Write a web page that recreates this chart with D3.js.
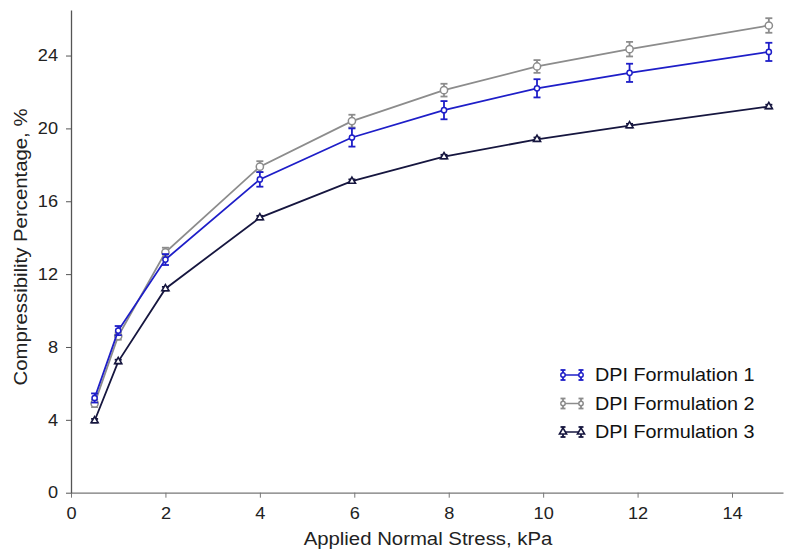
<!DOCTYPE html>
<html>
<head>
<meta charset="utf-8">
<script src="https://cdn.jsdelivr.net/npm/d3@7"></script>
<style>
  body { margin: 0; background: #fff; }
  svg { display: block; font-family: "Liberation Sans", Arial, sans-serif; }
</style>
</head>
<body>
<div id="chart"></div>
<script>
// Applied normal stress, kPa
const stress = [0.5, 1.0, 2.0, 4.0, 5.95, 7.9, 9.87, 11.83, 14.78];

// Compressibility percentage for each formulation
const form1 = [5.2, 8.9, 12.8, 17.2, 19.5, 21.0, 22.2, 23.05, 24.2];
const form2 = [4.9, 8.6, 13.2, 17.9, 20.4, 22.1, 23.4, 24.35, 25.65];
const form3 = [3.95, 7.2, 11.2, 15.1, 17.1, 18.45, 19.4, 20.15, 21.2];

// Error bar half-widths
const err1 = [0.25, 0.25, 0.3, 0.4, 0.5, 0.5, 0.5, 0.5, 0.5];
const err2 = [0.2, 0.2, 0.25, 0.3, 0.35, 0.35, 0.35, 0.4, 0.4];
const err3 = [0.1, 0.1, 0.1, 0.1, 0.1, 0.1, 0.1, 0.1, 0.1];

const seriesNames = ["DPI Formulation 1", "DPI Formulation 2", "DPI Formulation 3"];
const xTicks = [0, 2, 4, 6, 8, 10, 12, 14];
const yTicks = [0, 4, 8, 12, 16, 20, 24];

const width = 790;
const height = 549;

const colors = ["#1e1ec8", "#8c8c8c", "#16163f"];

const series = [
  { name: seriesNames[0], values: form1, err: err1, color: colors[0], marker: "circle", r: 2.6 },
  { name: seriesNames[1], values: form2, err: err2, color: colors[1], marker: "circle", r: 3.6 },
  { name: seriesNames[2], values: form3, err: err3, color: colors[2], marker: "tri", r: 3 }
];

const svg = d3.select("#chart")
  .append("svg")
  .attr("width", width)
  .attr("height", height);

const x = d3.scaleLinear().domain([0, 15.08]).range([71, 783]);
const y = d3.scaleLinear().domain([0, 26.5]).range([492.7, 10]);

// the source font is a bit wider than Liberation Sans, so stretch text horizontally
const stretch = 1.1;
function widen(sel) {
  sel.each(function () {
    const t = d3.select(this);
    const tx = +t.attr("x") || 0;
    t.attr("transform", `translate(${tx * (1 - stretch)}, 0) scale(${stretch}, 1)`);
  });
}

// X axis
const xAxis = svg.append("g")
  .attr("transform", `translate(0, ${y(0)})`)
  .call(d3.axisBottom(x).tickValues(xTicks).tickSize(5).tickPadding(10).tickSizeOuter(0));
xAxis.select(".domain").attr("stroke", "#777").attr("stroke-width", 1.3);
xAxis.selectAll(".tick line").attr("stroke", "#777");
xAxis.selectAll("text").attr("font-size", 16.5).attr("fill", "#222").call(widen);

// Y axis
const yAxis = svg.append("g")
  .attr("transform", `translate(${x(0)}, 0)`)
  .call(d3.axisLeft(y).tickValues(yTicks).tickSize(5).tickPadding(8).tickSizeOuter(0));
yAxis.select(".domain").attr("stroke", "#555").attr("stroke-width", 1.3);
yAxis.selectAll(".tick line").attr("stroke", "#555");
yAxis.selectAll("text").attr("font-size", 16.5).attr("fill", "#222").call(widen);

// Axis titles
svg.append("text")
  .attr("x", 428)
  .attr("y", 545)
  .attr("text-anchor", "middle")
  .attr("font-size", 18.5)
  .attr("fill", "#222")
  .text("Applied Normal Stress, kPa")
  .call(widen);

svg.append("text")
  .attr("transform", `translate(27, 247) rotate(-90) scale(${stretch}, 1)`)
  .attr("text-anchor", "middle")
  .attr("font-size", 18.5)
  .attr("fill", "#222")
  .text("Compressibility Percentage, %");

const triangle = d3.symbol().type(d3.symbolTriangle);

function drawMarker(g, s, cx, cy) {
  if (s.marker === "circle") {
    g.append("circle")
      .attr("cx", cx).attr("cy", cy).attr("r", s.r)
      .attr("fill", "#fff").attr("stroke", s.color).attr("stroke-width", 1.5);
  } else {
    g.append("path")
      .attr("d", triangle.size(22)())
      .attr("transform", `translate(${cx}, ${cy})`)
      .attr("fill", "#fff").attr("stroke", s.color).attr("stroke-width", 1.6);
  }
}

function drawErrorBar(g, s, cx, top, bottom, cap) {
  g.append("line")
    .attr("x1", cx).attr("x2", cx).attr("y1", top).attr("y2", bottom)
    .attr("stroke", s.color).attr("stroke-width", 1.8);
  [top, bottom].forEach(yy => {
    g.append("line")
      .attr("x1", cx - cap).attr("x2", cx + cap).attr("y1", yy).attr("y2", yy)
      .attr("stroke", s.color).attr("stroke-width", 1.8);
  });
}

const line = d3.line()
  .x(d => x(d[0]))
  .y(d => y(d[1]));

// Draw series in order: 3 at back, then 2, then 1
[series[2], series[1], series[0]].forEach(s => {
  const g = svg.append("g");
  const pts = stress.map((v, i) => [v, s.values[i], s.err[i]]);

  g.append("path")
    .datum(pts)
    .attr("d", line)
    .attr("fill", "none")
    .attr("stroke", s.color)
    .attr("stroke-width", 1.8);

  pts.forEach(p => {
    drawErrorBar(g, s, x(p[0]), y(p[1] + p[2]), y(p[1] - p[2]), 3.5);
  });
  pts.forEach(p => {
    drawMarker(g, s, x(p[0]), y(p[1]));
  });
});

// Legend
const legend = svg.append("g").attr("transform", "translate(561, 375)");
series.forEach((s, i) => {
  const row = legend.append("g").attr("transform", `translate(0, ${i * 28.5})`);
  row.append("line")
    .attr("x1", 2).attr("x2", 20).attr("y1", 0).attr("y2", 0)
    .attr("stroke", s.color).attr("stroke-width", 1.5);
  [2, 20].forEach(cx => {
    drawErrorBar(row, s, cx, -5, 5, 2.5);
    drawMarker(row, { ...s, r: 2.2 }, cx, 0);
  });
  row.append("text")
    .attr("x", 34)
    .attr("y", 0)
    .attr("dy", "0.35em")
    .attr("font-size", 18)
    .attr("fill", "#111")
    .text(s.name)
    .call(widen);
});
</script>
</body>
</html>
